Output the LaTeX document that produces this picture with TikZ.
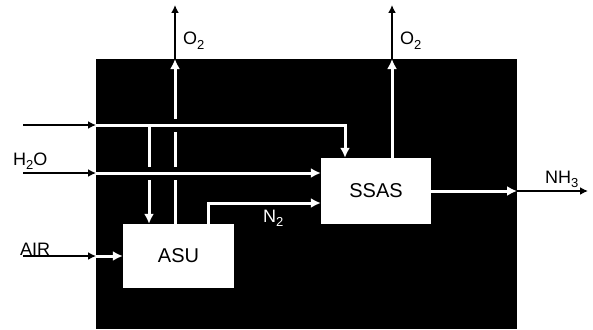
\documentclass[tikz,border=0pt]{standalone}
\usepackage{fontspec}
\setmainfont{Liberation Sans}
\usetikzlibrary{arrows.meta}
\pgfdeclarelayer{back}
\pgfdeclarelayer{flows}
\pgfsetlayers{back,flows,main}
\newcommand{\lowidx}[1]{\raisebox{-0.45ex}{\fontsize{13}{13}\selectfont #1}}

\begin{document}
\begin{tikzpicture}[x=1pt,y=-1pt,
	unit/.style={fill=white,minimum width=111pt,minimum height=64pt,inner sep=0pt,font=\fontsize{20}{22}\selectfont},
	lbl/.style={anchor=base west,inner sep=0pt,font=\fontsize{18}{20}\selectfont},
	inflow/.style={line width=2pt,-{Latex[length=8pt,width=8pt]}},
	wflow/.style={white,line width=3pt,-{Latex[length=10pt,width=10pt]}},
	cut/.style={preaction={draw=black,line width=13pt,-}}]
	\useasboundingbox (0,0) rectangle (593,329);

	% plant
	\begin{pgfonlayer}{back}
		\fill[black] (96,59) rectangle (517,329);
	\end{pgfonlayer}

	% units
	\node[unit] (asu) at (178.5,256) {ASU};
	\node[unit,minimum width=110pt,minimum height=66pt] (ssas) at (376,191) {SSAS};

	% edge points
	\coordinate (intop) at (23,125);
	\coordinate (etop) at (96,125);
	\coordinate (ttop) at (345,125);
	\coordinate (inwat) at (23,173);
	\coordinate (ewat) at (96,173);
	\coordinate (inair) at (23,256);
	\coordinate (eair) at (96,256);
	\coordinate (tap) at (149,125);
	\coordinate (oxa) at (175,59);
	\coordinate (oxaout) at (175,5);
	\coordinate (oxb) at (392,59);
	\coordinate (oxbout) at (392,5);
	\coordinate (nit) at (208,203);
	\coordinate (eam) at (517,191);
	\coordinate (amout) at (588,191);

	% streams inside the plant
	\begin{pgfonlayer}{flows}
		\draw[wflow] (oxa |- asu.north) -- (oxa);
		\draw[wflow,cut] (etop) -- (ttop) -- (ttop |- ssas.north);
		\draw[wflow] (tap) -- (tap |- asu.north);
		\draw[wflow,cut] (ewat) -- (ewat -| ssas.west);
		\draw[wflow] (eair) -- (asu.west);
		\draw[wflow] (nit |- asu.north) -- (nit) -- (nit -| ssas.west);
		\draw[wflow] (oxb |- ssas.north) -- (oxb);
		\draw[wflow] (ssas.east) -- (eam);
	\end{pgfonlayer}

	% streams outside
	\draw[inflow] (intop) -- (etop);
	\draw[inflow] (inwat) -- (ewat);
	\draw[inflow] (inair) -- (eair);
	\draw[inflow] (oxa) -- (oxaout);
	\draw[inflow] (oxb) -- (oxbout);
	\draw[inflow] (eam) -- (amout);

	% labels
	\node[lbl] (lwat) at (13,165) {H\lowidx{2}O};
	\node[lbl] (lair) at (20,255) {AIR};
	\node[lbl] (loxa) at (183,45) {O\lowidx{2}};
	\node[lbl] (loxb) at (400,45) {O\lowidx{2}};
	\node[lbl,text=white] (lnit) at (263,222) {N\lowidx{2}};
	\node[lbl] (lam) at (545,183) {NH\lowidx{3}};
\end{tikzpicture}
\end{document}
